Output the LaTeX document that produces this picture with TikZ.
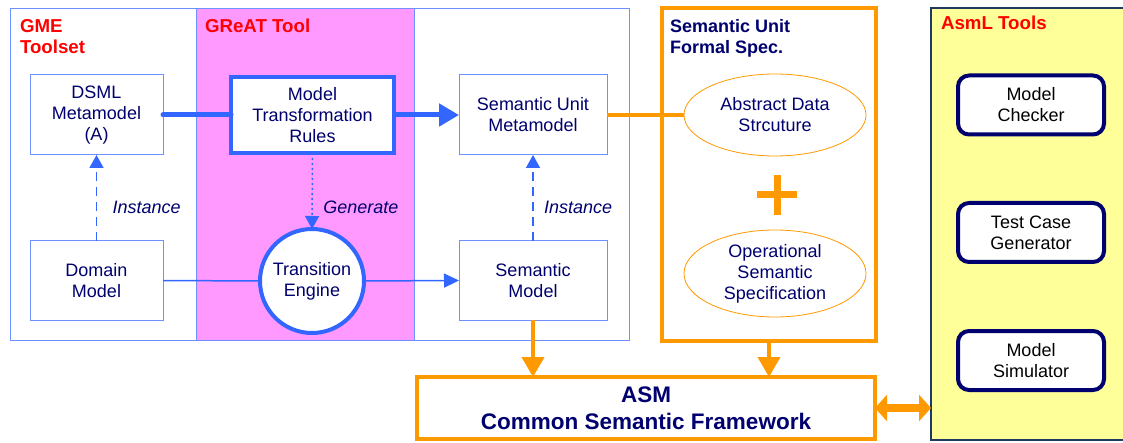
\documentclass[tikz,border=0pt]{standalone}
\usepackage{fontspec}
\setmainfont{Liberation Sans}
\usetikzlibrary{shapes,arrows.meta}
\definecolor{gmeBlue}{RGB}{51,102,255}
\definecolor{boxBlue}{RGB}{110,145,255}
\definecolor{darkNavy}{RGB}{0,0,110}
\definecolor{asmOrange}{RGB}{255,153,0}
\definecolor{greatPink}{RGB}{255,153,255}
\definecolor{asmlYellow}{RGB}{255,255,153}
\definecolor{asmlBorder}{RGB}{31,56,100}
\definecolor{toolRed}{RGB}{255,0,0}

\begin{document}
\begin{tikzpicture}[x=1pt, y=-1pt]%
  \tikzset{box/.style={draw=boxBlue, line width=1pt, fill=white, minimum width=133pt, minimum height=80pt},
    tool box/.style={draw=darkNavy, line width=4pt, fill=white, rounded corners=11pt, minimum width=146pt, minimum height=59pt, text=black},
    spec ellipse/.style={draw=asmOrange, ellipse, line width=0.8pt, fill=white, minimum width=182pt},
    title/.style={anchor=north west, align=left, font=\fontsize{18.7}{21}\selectfont\bfseries, text=toolRed},
    thick arrow/.style={draw, gmeBlue, line width=5pt, -{Triangle[length=20pt,width=22pt]}},
    thin arrow/.style={draw, gmeBlue, line width=1.5pt, -{Triangle[length=15pt,width=14pt]}},
    instance arrow/.style={draw, gmeBlue, line width=1.5pt, dash pattern=on 9pt off 6pt, -{Triangle[length=13pt,width=14pt]}},
    orange arrow/.style={draw, asmOrange, line width=4pt, -{Triangle[length=20pt,width=22pt]}},
    edge label/.style={font=\fontsize{18}{21}\selectfont\itshape}}
  \tikzstyle{every node}=[text=darkNavy, align=center, inner sep=0pt, outer sep=0pt, font=\fontsize{18}{21}\selectfont]

  \useasboundingbox (0,0) rectangle (1123,443);

  % tool panels
  \fill[greatPink] (196,9) rectangle (414,340);
  \draw[boxBlue, line width=1pt] (10,9) rectangle (629,340);
  \draw[boxBlue, line width=1pt] (196,9) -- (196,340) (414,9) -- (414,340);
  \node[draw=asmOrange, line width=4pt, minimum width=214pt, minimum height=333pt] at (769,174.5) (FS) {};
  \node[draw=asmlBorder, fill=asmlYellow, line width=1.5pt, minimum width=210pt, minimum height=432pt] at (1036,224) (AT) {};

  \node[title] at (20,19) (GMEt) {GME\\Toolset};
  \node[title] at (205,19) (GREATt) {GReAT Tool};
  \node[title, text=darkNavy, font=\fontsize{18}{21}\selectfont\bfseries] at (670,19) (FSt) {Semantic Unit\\Formal Spec.};
  \node[title] at (941,16) (ATt) {AsmL Tools};

  % models
  \node[box] at (96.5,115) (DSML) {DSML\\Metamodel\\(A)};
  \node[box, minimum height=79pt] at (96.5,280.5) (DM) {Domain\\Model};
  \node[box, draw=gmeBlue, line width=4pt, minimum width=163pt, minimum height=76pt] at (312.5,115) (MTR) {Model\\Transformation\\Rules};
  \node[draw=gmeBlue, circle, line width=4pt, fill=white, minimum size=104pt] at (312,281) (TE) {Transition\\Engine};
  \node[box, minimum width=148pt] at (533,115) (SUM) {Semantic Unit\\Metamodel};
  \node[box, minimum width=148pt, minimum height=79pt] at (533,280.5) (SM) {Semantic\\Model};

  % formal spec
  \node[spec ellipse, minimum height=82pt] at (775,115) (ADS) {Abstract Data\\Strcuture};
  \node[spec ellipse, minimum height=87pt] at (775,273.5) (OSS) {Operational\\Semantic\\Specification};
  \draw[asmOrange, line width=7pt] (757,195) -- (797,195) (777,175) -- (777,215);

  \node[draw=asmOrange, line width=4pt, fill=white, minimum width=458pt, minimum height=62pt, font=\fontsize{22.5}{27}\selectfont\bfseries] at (646,408) (ASM) {ASM\\Common Semantic Framework};

  % asml tools
  \node[tool box] at (1031,105) (MC) {Model\\Checker};
  \node[tool box] at (1031,232.5) (TCG) {Test Case\\Generator};
  \node[tool box] at (1031,360.5) (MS) {Model\\Simulator};

  % connectors
  \draw[gmeBlue, line width=5pt, line cap=round] (DSML.east) -- (MTR.west);
  \path[thick arrow] (MTR.east) -- (SUM.west);
  \draw[gmeBlue, line width=1.5pt] (DM.east) -- (TE.west);
  \path[thin arrow] (TE.east) -- (SM.west);
  \path[instance arrow] (DM.north) -- node[edge label, right=16pt, yshift=-9pt] {Instance} (DSML.south);
  \path[instance arrow] (SM.north) -- node[edge label, right=11pt, yshift=-9pt] {Instance} (SUM.south);
  \path[draw, gmeBlue, line width=1.5pt, dash pattern=on 2pt off 3pt, -{Triangle[length=13pt,width=14pt]}] (MTR.south) -- node[edge label, right=11pt, yshift=-16pt] {Generate} (TE.north);
  \draw[asmOrange, line width=4pt] (SUM.east) -- (ADS.west);
  \path[orange arrow] (SM.south) -- (SM.south |- ASM.north);
  \path[orange arrow] (FS.south) -- (FS.south |- ASM.north);
  \path[draw, asmOrange, line width=8pt, {Triangle[length=12pt,width=26pt]}-{Triangle[length=12pt,width=26pt]}] (ASM.east) -- (ASM.east -| AT.west);
\end{tikzpicture}
\end{document}
